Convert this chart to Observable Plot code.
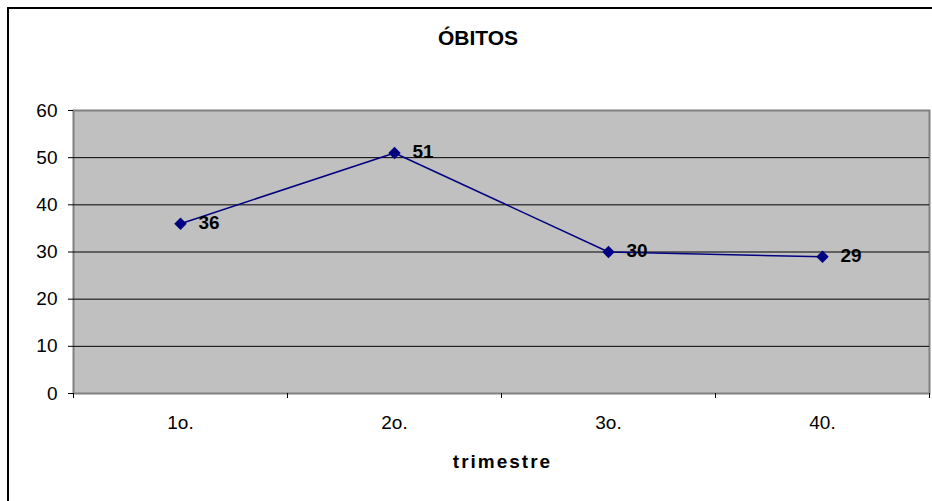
<!DOCTYPE html>
<html>
<head>
<meta charset="utf-8">
<script src="https://cdn.jsdelivr.net/npm/d3@7"></script>
<script src="https://cdn.jsdelivr.net/npm/@observablehq/plot@0.6"></script>
<style>
  html, body { margin: 0; padding: 0; background: #fff; overflow: hidden; }
  body { width: 932px; height: 501px; position: relative; font-family: "Liberation Sans", Arial, sans-serif; }
  #frame { position: absolute; left: 7px; top: 7px; width: 1000px; height: 600px; border: 2px solid #000; box-sizing: border-box; }
  #title { position: absolute; left: 0; top: 26px; width: 956px; text-align: center; font-weight: bold; font-size: 21px; line-height: 24px; letter-spacing: 0px; color: #000; }
  #chart { position: absolute; left: 0; top: 60px; }
  #chart svg { font-family: "Liberation Sans", Arial, sans-serif; }
</style>
</head>
<body>
<div id="frame"></div>
<div id="title">ÓBITOS</div>
<div id="chart"></div>
<script>
const categories = ["1o.", "2o.", "3o.", "40."];
const values = [36, 51, 30, 29];
const yTicks = [0, 10, 20, 30, 40, 50, 60];
const gridValues = [10, 20, 30, 40, 50];
const xLabel = "trimestre";

const data = categories.map((c, i) => ({pos: i + 0.5, cat: c, value: values[i]}));
const centers = categories.map((c, i) => i + 0.5);
const edges = d3.range(categories.length + 1);

const chart = Plot.plot({
  width: 932,
  height: 441,
  marginLeft: 73,
  marginRight: 3,
  marginTop: 50,
  marginBottom: 108,
  style: {background: "transparent", fontSize: "18px", color: "#000"},
  x: {type: "linear", domain: [0, categories.length]},
  y: {domain: [0, 60]},
  marks: [
    Plot.frame({fill: "#c0c0c0", stroke: "#808080", strokeWidth: 2}),
    Plot.ruleY(gridValues, {stroke: "#000", strokeWidth: 1}),
    Plot.axisY({ticks: yTicks, tickSize: 5, tickPadding: 11, fontSize: 19, stroke: "#000", label: null}),
    Plot.axisX({ticks: edges, tickSize: 5, tickFormat: () => "", label: null, stroke: "#000"}),
    Plot.axisX({ticks: centers, tickSize: 0, tickPadding: 22, fontSize: 19, label: null,
      tickFormat: d => categories[Math.round(d - 0.5)]}),
    Plot.line(data, {x: "pos", y: "value", stroke: "#000080", strokeWidth: 1.5}),
    Plot.dot(data, {x: "pos", y: "value", symbol: "diamond2", r: 5.6, fill: "#000080", stroke: "none"}),
    Plot.text(data, {x: "pos", y: "value", text: d => String(d.value), dx: 18, dy: -1, textAnchor: "start",
      fontSize: 19, fontWeight: "bold", fill: "#000"}),
    Plot.text([xLabel], {frameAnchor: "bottom", dy: 74, dx: 1, fontSize: 19, fontWeight: "bold", fill: "#000"})
  ]
});
d3.select(chart).selectAll("text")
  .filter(function() { return this.textContent === xLabel; })
  .style("letter-spacing", "2px");
document.getElementById("chart").appendChild(chart);
</script>
</body>
</html>
